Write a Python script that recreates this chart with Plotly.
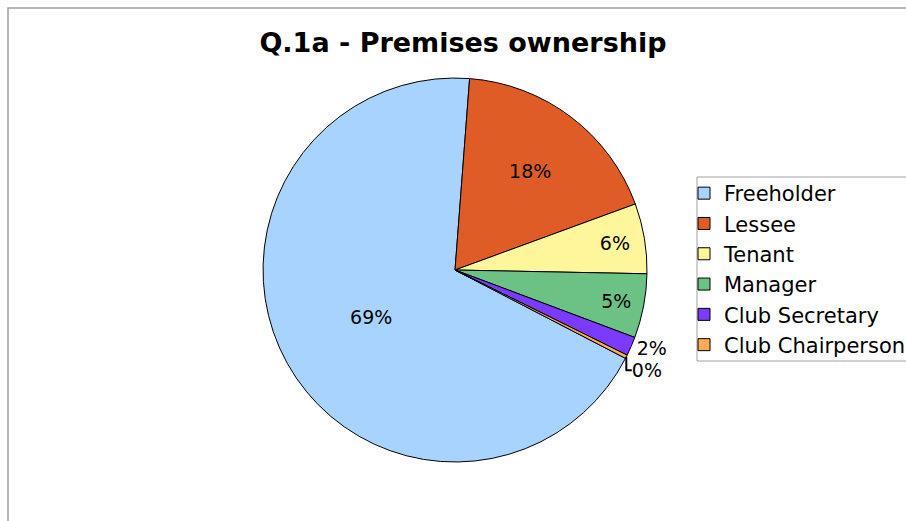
import plotly.graph_objects as go

labels = ["Freeholder", "Lessee", "Tenant", "Manager", "Club Secretary", "Club Chairperson"]
values = [68.6, 18.2, 5.9, 5.4, 1.6, 0.3]
colors = ["#a8d3ff", "#e05c26", "#fff59b", "#6cc184", "#7b3bff", "#ffad55"]
text_positions = ["inside", "inside", "inside", "inside", "outside", "outside"]

fig = go.Figure(go.Pie(
    labels=labels,
    values=values,
    sort=False,
    direction="clockwise",
    rotation=117.4,
    marker=dict(colors=colors, line=dict(color="#000000", width=1)),
    texttemplate="%{percent:.0%}",
    textposition=text_positions,
    insidetextorientation="horizontal",
    textfont=dict(family="DejaVu Sans", size=19, color="#000000"),
    domain=dict(x=[0.284, 0.7116], y=[0.115, 0.8635]),
    hoverinfo="label+percent",
))

fig.update_layout(
    width=906, height=521,
    margin=dict(l=8, t=8, r=0, b=0, autoexpand=False),
    paper_bgcolor="#ffffff",
    plot_bgcolor="#ffffff",
    font=dict(family="DejaVu Sans", color="#000000"),
    title=dict(text="<b>Q.1a - Premises ownership</b>", x=0.511, xanchor="center",
               y=0.919, yanchor="middle", yref="container",
               font=dict(family="DejaVu Sans", size=27, color="#000000")),
    showlegend=True,
    legend=dict(x=(684 - 8) / 898, xanchor="left", y=(521 - 173) / 513, yanchor="top",
                borderwidth=0, bgcolor="rgba(0,0,0,0)",
                font=dict(family="DejaVu Sans", size=21, color="#000000"),
                traceorder="normal"),
    shapes=[
        dict(type="rect", xref="paper", yref="paper", x0=0, x1=1.05, y0=-0.05, y1=1,
             line=dict(color="#a0a0a0", width=1.5), fillcolor="rgba(0,0,0,0)", layer="below"),
        dict(type="rect", xref="paper", yref="paper",
             x0=(697 - 8) / 898, x1=(910 - 8) / 898,
             y0=(521 - 361) / 513, y1=(521 - 177) / 513,
             line=dict(color="#a0a0a0", width=1), fillcolor="rgba(0,0,0,0)", layer="below"),
    ],
)

fig.write_html("out.html")
